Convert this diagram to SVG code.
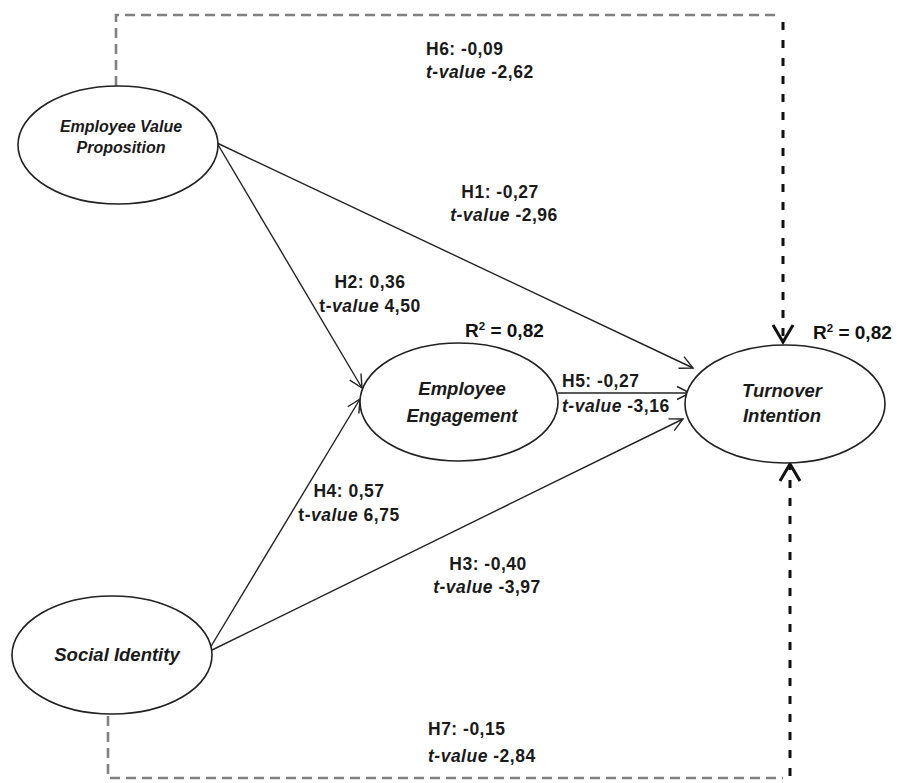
<svg xmlns="http://www.w3.org/2000/svg" width="897" height="783" viewBox="0 0 897 783">
<style>
.node{fill:#fff;stroke:#222;stroke-width:1.6}
.nl{font-family:"Liberation Sans",Arial,sans-serif;font-style:italic;font-weight:bold;fill:#1a1a1a;text-anchor:middle}
.lbl{font-family:"Liberation Sans",Arial,sans-serif;font-weight:bold;font-size:17.5px;letter-spacing:0.5px;fill:#1a1a1a}
.r2{font-family:"Liberation Sans",Arial,sans-serif;font-weight:bold;font-size:19px;fill:#111}
.edge{fill:none;stroke:#222;stroke-width:1.4}
.gray{fill:none;stroke:#808080;stroke-width:2.6;stroke-dasharray:10 6}
.blk{fill:none;stroke:#111;stroke-width:3;stroke-dasharray:8 10}
</style>
<defs>
<marker id="arr" markerUnits="userSpaceOnUse" viewBox="0 0 16 16" refX="14" refY="8" markerWidth="16" markerHeight="16" orient="auto">
<path d="M1,1.5 L14,8 L1,14.5" fill="none" stroke="#222" stroke-width="1.4"/>
</marker>
<marker id="arrB" markerUnits="userSpaceOnUse" viewBox="0 0 22 24" refX="19" refY="12" markerWidth="22" markerHeight="24" orient="auto">
<path d="M2,2 L19,12 L2,22" fill="none" stroke="#111" stroke-width="3" stroke-dasharray="none"/>
</marker>
</defs>
<g id="connectors">
<polyline class="gray" points="116,86 116,15 778,15"/>
<line class="blk" x1="783" y1="22" x2="783" y2="342" marker-end="url(#arrB)"/>
<polyline class="gray" points="108,716 108,778 783,778"/>
<line class="blk" x1="790" y1="776" x2="790" y2="464" marker-end="url(#arrB)"/>
<line class="edge" x1="217" y1="143" x2="693" y2="368" marker-end="url(#arr)"/>
<line class="edge" x1="217" y1="143" x2="362" y2="388" marker-end="url(#arr)"/>
<line class="edge" x1="558" y1="393" x2="690" y2="393" marker-end="url(#arr)"/>
<line class="edge" x1="210" y1="648" x2="360" y2="399" marker-end="url(#arr)"/>
<line class="edge" x1="210" y1="651" x2="683" y2="419" marker-end="url(#arr)"/>
</g>
<g id="labels">
<text class="lbl" x="426" y="55">H6: -0,09</text>
<text class="lbl" x="426" y="78"><tspan font-style="italic">t-value</tspan> -2,62</text>
<text class="lbl" x="500" y="198" text-anchor="middle">H1: -0,27</text>
<text class="lbl" x="504" y="221" text-anchor="middle"><tspan font-style="italic">t-value</tspan> -2,96</text>
<text class="lbl" x="370" y="288" text-anchor="middle">H2: 0,36</text>
<text class="lbl" x="370" y="312" text-anchor="middle">t-<tspan font-style="italic">value</tspan> 4,50</text>
<text class="r2" x="465" y="337">R<tspan dy="-7" font-size="11.5">2</tspan><tspan dy="7"> = 0,82</tspan></text>
<text class="lbl" x="562" y="387">H5: -0,27</text>
<text class="lbl" x="562" y="412"><tspan font-style="italic">t-value</tspan> -3,16</text>
<text class="r2" x="813" y="339">R<tspan dy="-7" font-size="11.5">2</tspan><tspan dy="7"> = 0,82</tspan></text>
<text class="lbl" x="349" y="497" text-anchor="middle">H4: 0,57</text>
<text class="lbl" x="349" y="521" text-anchor="middle">t-<tspan font-style="italic">value</tspan> 6,75</text>
<text class="lbl" x="488" y="570" text-anchor="middle">H3: -0,40</text>
<text class="lbl" x="487" y="593" text-anchor="middle"><tspan font-style="italic">t-value</tspan> -3,97</text>
<text class="lbl" x="428" y="735">H7: -0,15</text>
<text class="lbl" x="428" y="762"><tspan font-style="italic">t-value</tspan> -2,84</text>
</g>
<g id="evp">
<ellipse class="node" cx="118" cy="145" rx="100" ry="59"/>
<text class="nl" x="121" y="132" font-size="16">Employee Value</text>
<text class="nl" x="121" y="153" font-size="16">Proposition</text>
</g>
<g id="ee">
<ellipse class="node" cx="459" cy="402" rx="99" ry="59"/>
<text class="nl" x="462" y="395" font-size="18.5">Employee</text>
<text class="nl" x="462" y="422" font-size="18.5">Engagement</text>
</g>
<g id="ti">
<ellipse class="node" cx="785" cy="404" rx="100" ry="59"/>
<text class="nl" x="782" y="397" font-size="18.5">Turnover</text>
<text class="nl" x="782" y="422" font-size="18.5">Intention</text>
</g>
<g id="si">
<ellipse class="node" cx="112" cy="655" rx="100" ry="59"/>
<text class="nl" x="117" y="661" font-size="18.5">Social Identity</text>
</g>
</svg>
